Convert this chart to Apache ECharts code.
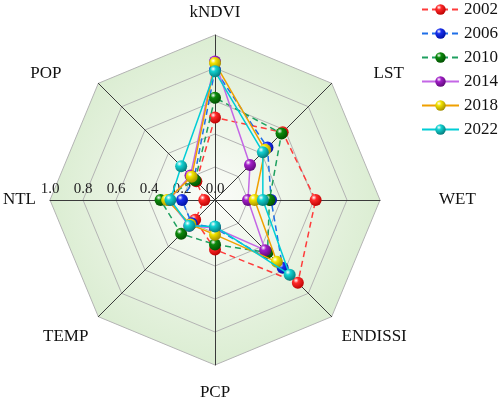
<!DOCTYPE html>
<html>
<head>
<meta charset="utf-8">
<script src="https://cdn.jsdelivr.net/npm/echarts@6/dist/echarts.min.js"></script>
<style>
  html, body { margin: 0; padding: 0; background: #fff; }
  #main { width: 498px; height: 398px; }
</style>
</head>
<body>
<div id="main"></div>
<script>
// indicators, clockwise from top as in the picture
let indicatorNames = ['kNDVI', 'LST', 'WET', 'ENDISSI', 'PCP', 'TEMP', 'NTL', 'POP'];
let years = ['2002', '2006', '2010', '2014', '2018', '2022'];
let axisTicks = [0.0, 0.2, 0.4, 0.6, 0.8, 1.0];

let data2002 = [0.50, 0.58, 0.61, 0.71, 0.30, 0.17, 0.065, 0.16];
let data2006 = [0.79, 0.45, 0.34, 0.58, 0.17, 0.20, 0.20, 0.18];
let data2010 = [0.62, 0.57, 0.33, 0.45, 0.27, 0.29, 0.33, 0.17];
let data2014 = [0.84, 0.30, 0.20, 0.43, 0.17, 0.22, 0.28, 0.21];
let data2018 = [0.83, 0.43, 0.24, 0.53, 0.21, 0.21, 0.29, 0.20];
let data2022 = [0.78, 0.41, 0.29, 0.64, 0.16, 0.22, 0.27, 0.29];

let lineColors = ['#ff3b3b', '#1f6fe8', '#1fa060', '#c466e6', '#f0a000', '#00cdd6'];
let ballColors = ['#ff2a2a', '#1a30ee', '#0b8a0b', '#a21fc8', '#f2e400', '#12d2d2'];
let ballDark = ['#b80000', '#0010a0', '#024d02', '#5e0a78', '#a08a00', '#067878'];
let lineTypes = [[6, 4], [6, 4], [6, 4], 'solid', 'solid', 'solid'];

let allData = [data2002, data2006, data2010, data2014, data2018, data2022];

// echarts lays radar axes counter-clockwise, so walk the list backwards after the first
let order = [0, 7, 6, 5, 4, 3, 2, 1];

// extra room around some axis names, as in the original figure
let namePads = {
  kNDVI: [0, 0, 0, 0],
  LST: [0, 0, 0, 32],
  WET: [0, 0, 0, 45],
  ENDISSI: [19, 0, 0, 0],
  PCP: [5, 0, 0, 0],
  TEMP: [19, 0, 0, 0],
  NTL: [0, 0, 0, 0],
  POP: [0, 27, 0, 0]
};

function ball(i) {
  return new echarts.graphic.RadialGradient(0.35, 0.3, 0.75, [
    { offset: 0, color: '#ffffff' },
    { offset: 0.3, color: ballColors[i] },
    { offset: 1, color: ballDark[i] }
  ]);
}

function createChart() {
  let myChart = echarts.init(document.getElementById('main'));
  let serif = 'Liberation Serif';

  let indicators = order.map(function (k) {
    let item = { name: indicatorNames[k], min: 0, max: 1 };
    if (indicatorNames[k] === 'NTL') {
      item.axisLabel = {
        show: true,
        showMinLabel: true,
        showMaxLabel: true,
        fontFamily: serif,
        fontSize: 15,
        color: '#222',
        align: 'center',
        verticalAlign: 'bottom',
        margin: -3,
        formatter: function (v) { return v.toFixed(1); }
      };
    }
    return item;
  });

  let rich = {};
  indicatorNames.forEach(function (n, i) {
    rich['n' + i] = { fontFamily: serif, fontSize: 17, color: '#111', padding: namePads[n] };
  });

  let series = [];
  // empty line series only give the legend its line + ball icons
  years.forEach(function (y, i) {
    series.push({
      name: y,
      type: 'line',
      data: [],
      symbol: 'circle',
      lineStyle: { color: lineColors[i], type: lineTypes[i], width: 1.5 },
      itemStyle: { color: ball(i) }
    });
  });
  years.forEach(function (y, i) {
    series.push({
      name: y,
      type: 'radar',
      z: 2 + i,
      symbol: 'circle',
      symbolSize: 12,
      lineStyle: { color: lineColors[i], type: lineTypes[i], width: 1.5 },
      itemStyle: { color: ball(i) },
      data: [{ name: y, value: order.map(function (k) { return allData[i][k]; }) }]
    });
  });

  let option = {
    animation: false,
    legend: {
      orient: 'vertical',
      left: 421,
      top: 1,
      padding: 0,
      itemWidth: 37,
      itemHeight: 13,
      itemGap: 7,
      data: years,
      textStyle: { fontFamily: serif, fontSize: 17, color: '#111' }
    },
    grid: { show: false, left: 0, top: 0, width: 1, height: 1 },
    xAxis: { type: 'category', show: false },
    yAxis: { type: 'value', show: false },
    radar: {
      center: [215, 200],
      radius: 165,
      shape: 'polygon',
      splitNumber: axisTicks.length - 1,
      nameGap: 14,
      axisName: {
        fontFamily: serif,
        fontSize: 17,
        color: '#111',
        rich: rich,
        formatter: function (name) {
          return '{n' + indicatorNames.indexOf(name) + '|' + name + '}';
        }
      },
      axisLine: { lineStyle: { color: '#3a3a3a', width: 1 } },
      axisLabel: { show: false },
      splitLine: { lineStyle: { color: '#b4b4b4', width: 1 } },
      splitArea: {
        show: true,
        areaStyle: {
          color: [new echarts.graphic.RadialGradient(215, 200, 165, [
            { offset: 0, color: '#fbfcf9' },
            { offset: 1, color: '#dbedd2' }
          ], true)]
        }
      },
      indicator: indicators
    },
    series: series
  };
  myChart.setOption(option);
}

createChart();
</script>
</body>
</html>
